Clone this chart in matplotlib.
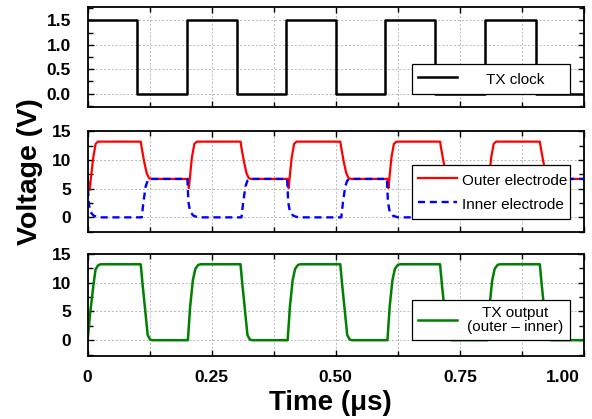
import matplotlib
matplotlib.use("Agg")
import matplotlib.pyplot as plt
import matplotlib.transforms as mtransforms
from matplotlib.ticker import MultipleLocator

plt.rcParams['font.family'] = ['Liberation Sans', 'DejaVu Sans']

# TX clock edges (us) and levels (V), drawn as steps
clock_t = [0.0, 0.1, 0.2, 0.3, 0.4, 0.5, 0.6, 0.7, 0.8, 0.903, 1.0]
clock_v = [1.5, 0.0, 1.5, 0.0, 1.5, 0.0, 1.5, 0.0, 1.5, 0.0, 0.0]

# outer electrode
outer_t = [0.000, 0.004, 0.011, 0.016, 0.021, 0.107, 0.109, 0.114, 0.119, 0.124, 0.129,
           0.202, 0.204, 0.210, 0.215, 0.220, 0.308, 0.310, 0.315, 0.320, 0.325, 0.330,
           0.403, 0.405, 0.411, 0.416, 0.421, 0.509, 0.511, 0.516, 0.521, 0.526, 0.531,
           0.604, 0.606, 0.612, 0.617, 0.622, 0.710, 0.712, 0.717, 0.722, 0.727, 0.732,
           0.805, 0.807, 0.813, 0.818, 0.823, 0.911, 0.913, 0.918, 0.923, 0.928, 0.933, 1.000]
outer_v = [6.6, 4.8, 10.2, 12.8, 13.2, 13.2, 12.1, 9.7, 7.7, 6.8, 6.7,
           6.7, 5.1, 10.4, 12.8, 13.2, 13.2, 12.1, 9.7, 7.7, 6.8, 6.7,
           6.7, 5.1, 10.4, 12.8, 13.2, 13.2, 12.1, 9.7, 7.7, 6.8, 6.7,
           6.7, 5.1, 10.4, 12.8, 13.2, 13.2, 12.1, 9.7, 7.7, 6.8, 6.7,
           6.7, 5.1, 10.4, 12.8, 13.2, 13.2, 12.1, 9.7, 7.7, 6.8, 6.7, 6.7]

# inner electrode (blue dashed trace)
inner_t = [0.000, 0.002, 0.005, 0.012, 0.022, 0.109, 0.1125, 0.117, 0.121, 0.126,
           0.201, 0.203, 0.2065, 0.213, 0.223, 0.310, 0.3135, 0.318, 0.322, 0.327,
           0.402, 0.404, 0.4075, 0.414, 0.424, 0.511, 0.5145, 0.519, 0.523, 0.528,
           0.603, 0.605, 0.6085, 0.615, 0.625, 0.712, 0.7155, 0.720, 0.724, 0.729,
           0.804, 0.806, 0.8095, 0.816, 0.826, 0.913, 0.9165, 0.921, 0.925, 0.930, 1.000]
inner_v = [7.0, 2.7, 1.0, 0.3, 0.0, 0.0, 2.7, 5.4, 6.4, 6.7,
           6.7, 2.7, 1.0, 0.3, 0.0, 0.0, 2.7, 5.4, 6.4, 6.7,
           6.7, 2.7, 1.0, 0.3, 0.0, 0.0, 2.7, 5.4, 6.4, 6.7,
           6.7, 2.7, 1.0, 0.3, 0.0, 0.0, 2.7, 5.4, 6.4, 6.7,
           6.7, 2.7, 1.0, 0.3, 0.0, 0.0, 2.7, 5.4, 6.4, 6.7, 6.7]

# TX output = outer - inner (green trace)
txout_t = [0.000, 0.005, 0.012, 0.016, 0.021, 0.026, 0.107, 0.1105, 0.116, 0.121, 0.126, 0.131,
           0.202, 0.2065, 0.212, 0.217, 0.223, 0.228, 0.308, 0.3115, 0.317, 0.322, 0.327, 0.332,
           0.403, 0.4075, 0.413, 0.418, 0.424, 0.429, 0.509, 0.5125, 0.518, 0.523, 0.528, 0.533,
           0.604, 0.6085, 0.614, 0.619, 0.625, 0.630, 0.710, 0.7135, 0.719, 0.724, 0.729, 0.734,
           0.805, 0.8095, 0.815, 0.820, 0.826, 0.831, 0.911, 0.9145, 0.920, 0.925, 0.930, 0.935, 1.000]
txout_v = [0.0, 4.6, 9.8, 12.3, 13.0, 13.2, 13.2, 9.9, 5.2, 0.9, 0.1, 0.0,
           0.0, 5.8, 10.4, 12.4, 13.1, 13.2, 13.2, 9.9, 5.2, 0.9, 0.1, 0.0,
           0.0, 5.8, 10.4, 12.4, 13.1, 13.2, 13.2, 9.9, 5.2, 0.9, 0.1, 0.0,
           0.0, 5.8, 10.4, 12.4, 13.1, 13.2, 13.2, 9.9, 5.2, 0.9, 0.1, 0.0,
           0.0, 5.8, 10.4, 12.4, 13.1, 13.2, 13.2, 9.9, 5.2, 0.9, 0.1, 0.0, 0.0]

fig = plt.figure(figsize=(5.92, 4.19), dpi=100)
left, width = 0.148, 0.8385
ax1 = fig.add_axes([left, 0.744, width, 0.240])
ax2 = fig.add_axes([left, 0.447, width, 0.241])
ax3 = fig.add_axes([left, 0.151, width, 0.243])


def style_axis(ax):
    ax.set_xlim(0, 1.0)
    ax.xaxis.set_major_locator(MultipleLocator(0.25))
    ax.xaxis.set_minor_locator(MultipleLocator(0.125))
    ax.tick_params(which='both', direction='in', top=True, right=True,
                   width=1.0, labelsize=12.5)
    ax.tick_params(which='major', length=4.5)
    ax.tick_params(which='minor', length=3.5)
    ax.tick_params(axis='y', pad=12)
    ax.tick_params(axis='x', pad=10)
    ax.grid(True, axis='x', which='both', color='#b8b8b8', linestyle=(0, (2, 2)), linewidth=0.7)
    ax.grid(True, axis='y', which='major', color='#b8b8b8', linestyle=(0, (2, 2)), linewidth=0.7)
    ax.set_axisbelow(True)
    for s in ax.spines.values():
        s.set_linewidth(1.3)
    for lab in ax.get_yticklabels():
        lab.set_fontweight('bold')


def make_legend(ax, y0, pad, hheight, lspace):
    leg = ax.legend(loc='lower left', bbox_to_anchor=(0.653, y0, 0.319, 0.3),
                    mode='expand', borderaxespad=0, fancybox=False,
                    edgecolor='black', framealpha=1, fontsize=11,
                    handlelength=2.55, handletextpad=pad, labelspacing=lspace,
                    borderpad=0.4, handleheight=hheight)
    leg.get_frame().set_linewidth(0.9)
    return leg


# top: clock
ax1.plot(clock_t, clock_v, color='black', lw=1.8, drawstyle='steps-post', label='TX clock')
ax1.set_ylim(-0.28, 1.78)
ax1.set_yticks([0, 0.5, 1.0, 1.5])
ax1.set_yticklabels(['0.0', '0.5', '1.0', '1.5'])
ax1.yaxis.set_minor_locator(MultipleLocator(0.25))
style_axis(ax1)
ax1.set_xticklabels([])
make_legend(ax1, 0.129, 1.9, 1.45, 0.4)

# middle: electrodes
ax2.plot(outer_t, outer_v, color='#ff0000', lw=1.6, label='Outer electrode')
ax2.plot(inner_t, inner_v, color='#0000ff', lw=1.7, linestyle=(0, (3, 2)), label='Inner electrode')
ax2.set_ylim(-2.5, 15.1)
ax2.set_yticks([0, 5, 10, 15])
ax2.yaxis.set_minor_locator(MultipleLocator(2.5))
style_axis(ax2)
ax2.set_xticklabels([])
make_legend(ax2, 0.126, 0.35, 1.4, 0.45)

# bottom: TX output
ax3.plot(txout_t, txout_v, color='#008000', lw=1.8, label='TX output\n(outer \u2013 inner)')
ax3.set_ylim(-2.7, 15.0)
ax3.set_yticks([0, 5, 10, 15])
ax3.yaxis.set_minor_locator(MultipleLocator(2.5))
style_axis(ax3)
ax3.set_xticks([0, 0.25, 0.5, 0.75, 1.0])
ax3.set_xticklabels(['0', '0.25', '0.50', '0.75', '1.00'], fontweight='bold')
last = ax3.get_xticklabels()[-1]
last.set_horizontalalignment('right')
last.set_transform(last.get_transform() +
                   mtransforms.ScaledTranslation(-4 / 100, 0, fig.dpi_scale_trans))
leg3 = make_legend(ax3, 0.154, 0.65, 0.7, 0.4)
for t in leg3.get_texts():
    t.set_multialignment('center')
    t.set_linespacing(1.0)

fig.text(0.051, 1 - 171.5 / 419, 'Voltage (V)', rotation=90, ha='center', va='center',
         fontsize=20.5, fontweight='bold')
fig.text(330 / 592, 1 - 403 / 419, 'Time (\u03bcs)', ha='center', va='center',
         fontsize=20, fontweight='bold')

fig.savefig('out.png', dpi=100)
